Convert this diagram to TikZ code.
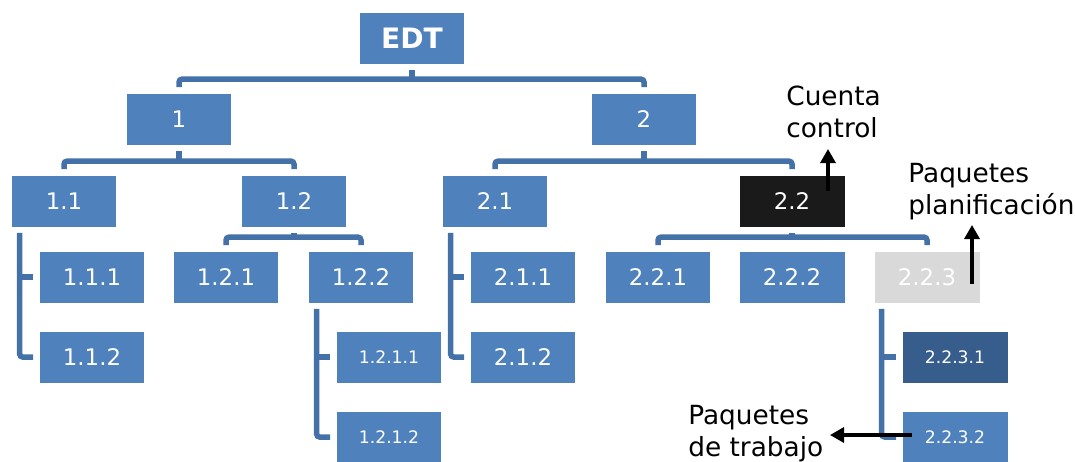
\documentclass[tikz,border=0pt]{standalone}
\usepackage{fontspec}
\setmainfont{DejaVu Sans}
\usetikzlibrary{arrows.meta}
\definecolor{boxblue}{HTML}{4F81BD}
\definecolor{linkblue}{HTML}{4472A8}
\definecolor{deepblue}{HTML}{375D8D}
\definecolor{pkggray}{HTML}{D9D9D9}
\definecolor{ctrlblack}{HTML}{1A1A1A}
\begin{document}
\begin{tikzpicture}[x=0.02cm, y=0.02cm,
    box/.style={fill=#1, text=white, minimum width=2.1cm, minimum height=1.02cm,
                inner sep=0pt, font=\fontsize{13}{15}\selectfont},
    box/.default=boxblue,
    small/.style={font=\fontsize{9.8}{11}\selectfont},
    conn/.style={draw=linkblue, line width=0.11cm, rounded corners=0.06cm},
    arr/.style={-{Triangle[length=0.28cm,width=0.3cm]}, line width=0.065cm},
    note/.style={anchor=north west, align=left, inner sep=0pt,
                 font=\fontsize{15}{18.1}\selectfont},
]
\useasboundingbox (0,0) rectangle (1075,-461);

\node[box, font=\bfseries\fontsize{16}{18}\selectfont] (edt) at (412,-38) {EDT};
\node[box] (n1)  at (179,-119) {1};
\node[box] (n2)  at (644,-119) {2};

\node[box] (n11) at (64,-201)  {1.1};
\node[box] (n12) at (294,-201) {1.2};
\node[box] (n21) at (495,-201) {2.1};
\node[box=ctrlblack] (n22) at (792,-201) {2.2};

\node[box] (n111) at (92,-277)  {1.1.1};
\node[box] (n112) at (92,-357)  {1.1.2};
\node[box] (n121) at (226,-277) {1.2.1};
\node[box] (n122) at (361,-277) {1.2.2};
\node[box, small] (n1211) at (389,-357) {1.2.1.1};
\node[box, small] (n1212) at (389,-437) {1.2.1.2};
\node[box] (n211) at (523,-277) {2.1.1};
\node[box] (n212) at (523,-357) {2.1.2};
\node[box] (n221) at (658,-277) {2.2.1};
\node[box] (n222) at (792,-277) {2.2.2};
\node[box=pkggray] (n223) at (927,-277) {2.2.3};
\node[box=deepblue, small] (n2231) at (955,-357) {2.2.3.1};
\node[box, small] (n2232) at (955,-437) {2.2.3.2};

% top-down brackets
\draw[conn] ([yshift=-0.12cm]edt.south) -- ([yshift=0.3cm]edt.south |- n1.north);
\draw[conn] ([yshift=0.12cm]n1.north) |- ([yshift=0.28cm]n2.north) -- ([yshift=0.12cm]n2.north);
\draw[conn] ([yshift=-0.12cm]n1.south) -- ([yshift=0.3cm]n1.south |- n11.north);
\draw[conn] ([yshift=0.12cm]n11.north) |- ([yshift=0.28cm]n12.north) -- ([yshift=0.12cm]n12.north);
\draw[conn] ([yshift=-0.12cm]n2.south) -- ([yshift=0.3cm]n2.south |- n21.north);
\draw[conn] ([yshift=0.12cm]n21.north) |- ([yshift=0.28cm]n22.north) -- ([yshift=0.12cm]n22.north);
\draw[conn] ([yshift=-0.12cm]n12.south) -- ([yshift=0.3cm]n12.south |- n121.north);
\draw[conn] ([yshift=0.12cm]n121.north) |- ([yshift=0.28cm]n122.north) -- ([yshift=0.12cm]n122.north);
\draw[conn] ([yshift=-0.12cm]n22.south) -- ([yshift=0.3cm]n22.south |- n221.north);
\draw[conn] ([yshift=0.12cm]n221.north) |- ([yshift=0.28cm]n223.north) -- ([yshift=0.12cm]n223.north);

% side brackets
\draw[conn] ([xshift=0.17cm, yshift=-0.12cm]n11.south west) |- ([xshift=-0.12cm]n112.west);
\draw[conn] ([xshift=0.17cm]n11.west |- n111.west) -- ([xshift=-0.12cm]n111.west);
\draw[conn] ([xshift=0.17cm, yshift=-0.12cm]n122.south west) |- ([xshift=-0.12cm]n1212.west);
\draw[conn] ([xshift=0.17cm]n122.west |- n1211.west) -- ([xshift=-0.12cm]n1211.west);
\draw[conn] ([xshift=0.17cm, yshift=-0.12cm]n21.south west) |- ([xshift=-0.12cm]n212.west);
\draw[conn] ([xshift=0.17cm]n21.west |- n211.west) -- ([xshift=-0.12cm]n211.west);
\draw[conn] ([xshift=0.15cm, yshift=-0.12cm]n223.south west) |- ([xshift=-0.12cm]n2232.west);
\draw[conn] ([xshift=0.15cm]n223.west |- n2231.west) -- ([xshift=-0.12cm]n2231.west);

% notes
\node[note] (cuenta) at (786,-86)  {Cuenta\\control};
\node[note] (planif) at (908,-163) {Paquetes\\planificación};
\node[note] (trabajo) at (688,-405) {Paquetes\\de trabajo};

\coordinate (ctail) at (828,-191);
\coordinate (chead) at (828,-149);
\coordinate (ptail) at (972,-284);
\coordinate (phead) at (972,-225);
\coordinate (ttail) at (912,-435);
\coordinate (thead) at (830,-435);
\draw[arr] (ctail) -- (chead);
\draw[arr] (ptail) -- (phead);
\draw[arr] (ttail) -- (thead);
\end{tikzpicture}
\end{document}
